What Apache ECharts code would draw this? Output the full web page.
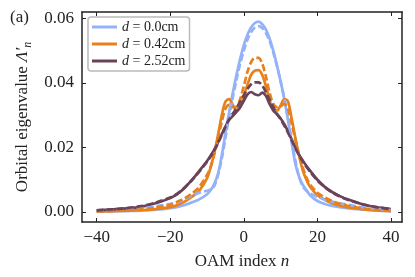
<!DOCTYPE html>
<html><head><meta charset="utf-8">
<script src="https://cdn.jsdelivr.net/npm/echarts@6/dist/echarts.min.js"></script>
<style>html,body{margin:0;padding:0;background:#fff}#c{width:415px;height:277px}</style>
</head><body><div id="c"></div>
<script>
// OAM index n
const nVals = [-40,-36,-32,-28,-24,-20,-18,-16,-14,-12,-10,-9,-8,-7,-6,-5,-4,-3,-2,-1,0,1,2,3,4,5,6,7,8,9,10,11,12,13,14,15,16,17,18,20,22,24,26,28,32,36,40];
// d = 0.0cm
const blueSolid = [0.0001,0.0002,0.0003,0.0004,0.0007,0.0012,0.0016,0.0022,0.0030,0.0040,0.0055,0.0068,0.0088,0.0120,0.0175,0.0245,0.0310,0.0370,0.0425,0.0475,0.0517,0.0550,0.0573,0.0586,0.0590,0.0582,0.0565,0.0538,0.0500,0.0455,0.0405,0.0350,0.0285,0.0215,0.0150,0.0110,0.0085,0.0068,0.0052,0.0034,0.0025,0.0019,0.0015,0.0012,0.0008,0.0005,0.0003];
const blueDashed = [0.0003,0.0005,0.0008,0.0012,0.0018,0.0025,0.0030,0.0040,0.0052,0.0060,0.0066,0.0070,0.0082,0.0115,0.0165,0.0230,0.0295,0.0355,0.0410,0.0460,0.0500,0.0535,0.0558,0.0572,0.0576,0.0570,0.0555,0.0530,0.0495,0.0452,0.0405,0.0352,0.0290,0.0225,0.0160,0.0110,0.0080,0.0066,0.0058,0.0047,0.0038,0.0032,0.0027,0.0023,0.0015,0.0010,0.0006];
// d = 0.42cm
const orangeSolid = [0.0002,0.0003,0.0004,0.0006,0.0009,0.0015,0.0022,0.0033,0.0048,0.0068,0.0105,0.0140,0.0185,0.0240,0.0300,0.0342,0.0350,0.0332,0.0315,0.0326,0.0360,0.0395,0.0425,0.0438,0.0440,0.0425,0.0390,0.0347,0.0318,0.0314,0.0330,0.0350,0.0343,0.0290,0.0230,0.0175,0.0130,0.0100,0.0078,0.0052,0.0038,0.0027,0.0020,0.0015,0.0009,0.0005,0.0003];
const orangeDashed = [0.0002,0.0003,0.0005,0.0008,0.0013,0.0022,0.0032,0.0043,0.0058,0.0080,0.0115,0.0140,0.0180,0.0228,0.0280,0.0320,0.0332,0.0325,0.0325,0.0350,0.0390,0.0435,0.0465,0.0478,0.0478,0.0460,0.0420,0.0370,0.0335,0.0325,0.0328,0.0335,0.0320,0.0275,0.0225,0.0178,0.0138,0.0108,0.0085,0.0060,0.0045,0.0034,0.0026,0.0020,0.0012,0.0007,0.0004];
// d = 2.52cm
const purpleSolid = [0.0005,0.0008,0.0011,0.0016,0.0027,0.0043,0.0056,0.0076,0.0101,0.0129,0.0158,0.0175,0.0194,0.0216,0.0241,0.0265,0.0285,0.0298,0.0310,0.0325,0.0345,0.0365,0.0372,0.0365,0.0362,0.0370,0.0360,0.0335,0.0315,0.0303,0.0290,0.0272,0.0250,0.0225,0.0200,0.0178,0.0160,0.0143,0.0128,0.0100,0.0078,0.0062,0.0050,0.0040,0.0025,0.0015,0.0009];
const purpleDashed = [0.0005,0.0008,0.0012,0.0018,0.0029,0.0045,0.0058,0.0077,0.0100,0.0127,0.0156,0.0173,0.0192,0.0214,0.0239,0.0264,0.0288,0.0305,0.0322,0.0342,0.0362,0.0382,0.0396,0.0402,0.0402,0.0392,0.0372,0.0348,0.0325,0.0305,0.0288,0.0268,0.0246,0.0222,0.0198,0.0176,0.0157,0.0140,0.0125,0.0098,0.0077,0.0061,0.0049,0.0039,0.0025,0.0015,0.0009];
const xTicks = [-40,-20,0,20,40];
const yTicks = [0,0.02,0.04,0.06];
const legendNames = ['d = 0.0cm','d = 0.42cm','d = 2.52cm'];

const FONT = 'Liberation Serif';
const BLUE = '#94b2f8', ORANGE = '#e8801c', PURPLE = '#6a4259';
const pts = arr => nVals.map((x,i)=>[x,arr[i]]);
const mk = (name, arr, color, dashed) => ({
  name, type:'line', data: pts(arr), showSymbol:false, smooth:0.3,
  lineStyle:{color, width:2.7, type: dashed ? [7,3] : 'solid'},
  itemStyle:{color}, emphasis:{disabled:true}, z: dashed ? 3 : 2
});
const axisCommon = {
  axisLine:{show:true, onZero:false, lineStyle:{color:'#222', width:1.5}},
  axisTick:{inside:true, length:4, lineStyle:{color:'#222', width:1}},
  splitLine:{show:false}
};
const chart = echarts.init(document.getElementById('c'), null, {renderer:'canvas'});
chart.setOption({
  animation:false,
  backgroundColor:'#fff',
  grid:{left:82, right:13, top:12, bottom:55},
  xAxis:[
    Object.assign({}, axisCommon, {type:'value', min:-44, max:43, position:'bottom',
      axisTick:Object.assign({}, axisCommon.axisTick, {customValues:xTicks}),
      axisLabel:{customValues:xTicks, fontFamily:FONT, fontSize:17, color:'#222', margin:7,
        formatter:v => v<0 ? '\u2212'+Math.abs(v) : String(v)},
      name:'OAM index {i|n}', nameLocation:'middle', nameGap:31,
      nameTextStyle:{fontFamily:FONT, fontSize:17, color:'#222',
        rich:{i:{fontFamily:FONT, fontSize:17, fontStyle:'italic', color:'#222'}}}}),
    Object.assign({}, axisCommon, {type:'value', min:-44, max:43, position:'top',
      axisTick:Object.assign({}, axisCommon.axisTick, {customValues:xTicks}),
      axisLabel:{show:false}})
  ],
  yAxis:[
    Object.assign({}, axisCommon, {type:'value', min:-0.0031, max:0.062, position:'left',
      axisTick:Object.assign({}, axisCommon.axisTick, {customValues:yTicks}),
      axisLabel:{customValues:yTicks, fontFamily:FONT, fontSize:17, color:'#222', margin:8,
        formatter:v => v.toFixed(2)},
      name:'Orbital eigenvalue {L|\u039b\u2032}{s|n}', nameLocation:'middle', nameRotate:90, nameGap:35,
      nameTextStyle:{fontFamily:FONT, fontSize:17, color:'#222', lineHeight:22,
        rich:{L:{fontFamily:FONT, fontSize:17, fontStyle:'italic', color:'#222', lineHeight:22},
              s:{fontFamily:FONT, fontSize:12, fontStyle:'italic', color:'#222', verticalAlign:'bottom', lineHeight:22}}}}),
    Object.assign({}, axisCommon, {type:'value', min:-0.0031, max:0.062, position:'right',
      axisTick:Object.assign({}, axisCommon.axisTick, {customValues:yTicks}),
      axisLabel:{show:false}})
  ],
  legend:{
    data:legendNames, left:88, top:17, orient:'vertical',
    icon:'rect', itemWidth:25, itemHeight:3, itemGap:3,
    padding:[3,4,3,4],
    borderColor:'#bbb', borderWidth:1.5, borderRadius:3, backgroundColor:'rgba(255,255,255,0.85)',
    formatter: name => '{i|d} ' + name.slice(2),
    textStyle:{fontFamily:FONT, fontSize:14, color:'#222', lineHeight:14,
      rich:{i:{fontFamily:FONT, fontSize:14, fontStyle:'italic', color:'#222', lineHeight:14}}}
  },
  graphic:[{type:'text', left:10, top:9, style:{text:'(a)', font:'17px "Liberation Serif"', fill:'#222'}}],
  series:[
    mk(legendNames[0], blueSolid, BLUE, false),
    mk(legendNames[1], orangeSolid, ORANGE, false),
    mk(legendNames[2], purpleSolid, PURPLE, false),
    mk('d = 0.0cm dashed', blueDashed, BLUE, true),
    mk('d = 0.42cm dashed', orangeDashed, ORANGE, true),
    mk('d = 2.52cm dashed', purpleDashed, PURPLE, true)
  ]
});
</script></body></html>
